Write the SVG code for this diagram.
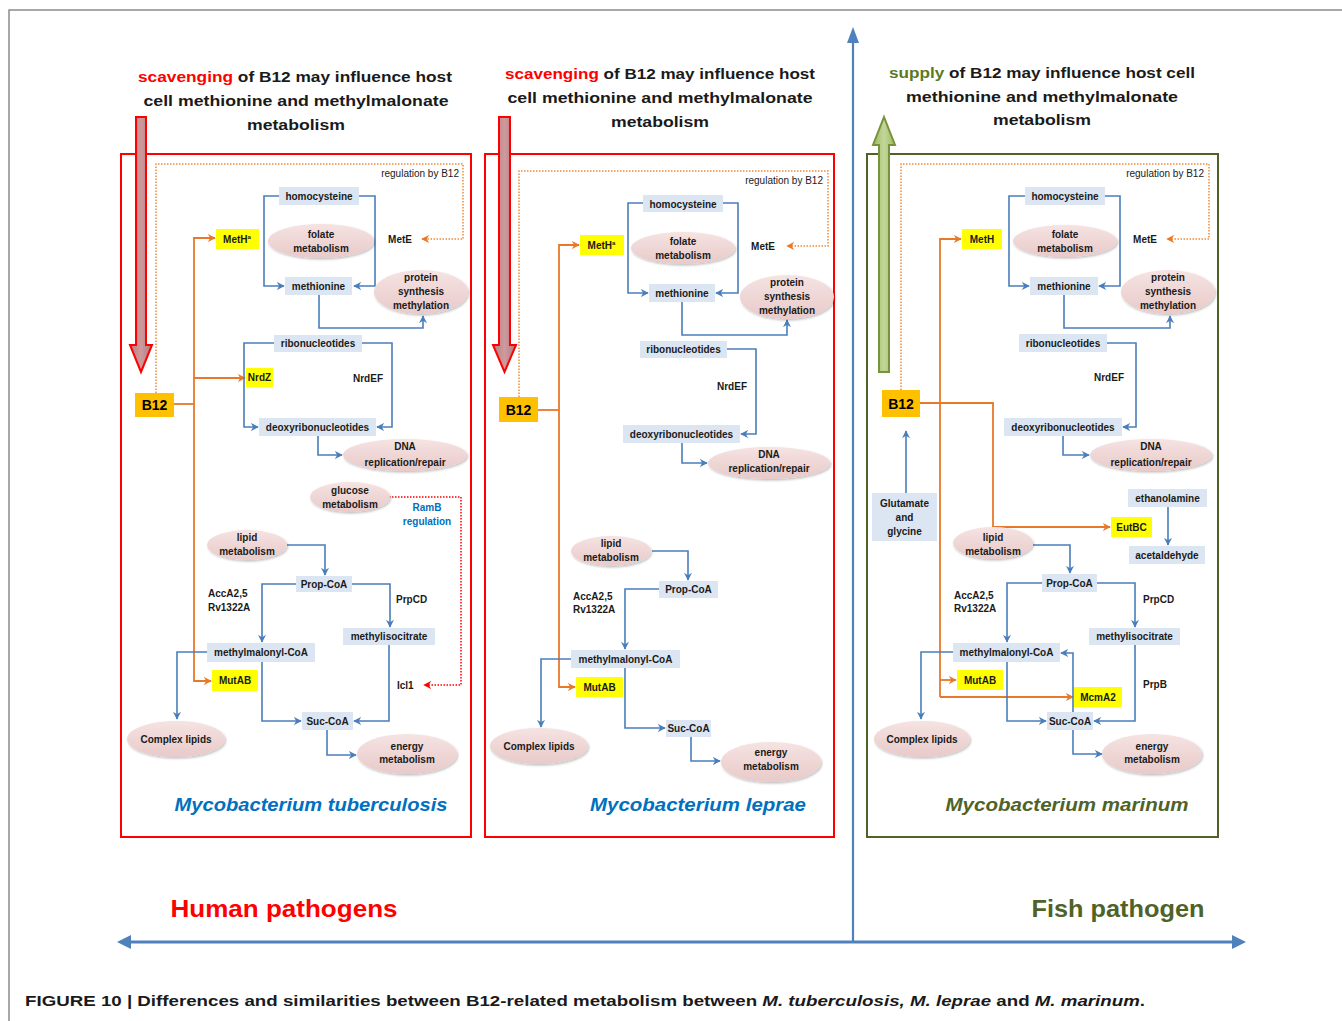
<svg xmlns="http://www.w3.org/2000/svg" width="1342" height="1021" viewBox="0 0 1342 1021">
<defs>
<style>
.bx{fill:#dce6f2}
.yl{fill:#ffff00}
.b12{fill:#ffc000}
.el{fill:url(#eg);filter:url(#sh)}
.t{font-family:"Liberation Sans",Arial,sans-serif;font-size:10px;font-weight:bold;fill:#1a1a1a;text-anchor:middle}
.ts{font-family:"Liberation Sans",Arial,sans-serif;font-size:10px;font-weight:bold;fill:#1a1a1a}
.rg{font-family:"Liberation Sans",Arial,sans-serif;font-size:10px;fill:#1a1a1a;text-anchor:end}
.bt{font-family:"Liberation Sans",Arial,sans-serif;font-size:14px;font-weight:bold;fill:#000;text-anchor:middle}
.hd{font-family:"Liberation Sans",Arial,sans-serif;font-size:15.5px;font-weight:bold;fill:#1a1a1a;text-anchor:middle}
.sp{font-family:"Liberation Sans",Arial,sans-serif;font-size:19px;font-weight:bold;font-style:italic;text-anchor:middle}
.bl{fill:none;stroke:#4a7ebb;stroke-width:1.6;marker-end:url(#ab)}
.or{fill:none;stroke:#e8782a;stroke-width:1.8}
.ora{fill:none;stroke:#e8782a;stroke-width:1.8;marker-end:url(#ao)}
.od{fill:none;stroke:#f08a3a;stroke-width:1.5;stroke-dasharray:1.5 1.5;marker-end:url(#ao)}
.rd{fill:none;stroke:#ff0000;stroke-width:1.5;stroke-dasharray:1.5 1.5;marker-end:url(#ar)}
</style>
<filter id="sh" x="-20%" y="-20%" width="140%" height="150%"><feDropShadow dx="1" dy="1.5" stdDeviation="1" flood-color="#000" flood-opacity="0.25"/></filter>
<linearGradient id="eg" x1="0" y1="0" x2="0" y2="1"><stop offset="0" stop-color="#f5e3e2"/><stop offset="1" stop-color="#e8cac9"/></linearGradient>
<linearGradient id="rg" x1="0" y1="0" x2="1" y2="0"><stop offset="0" stop-color="#b57e83"/><stop offset="0.5" stop-color="#cf9a9e"/><stop offset="1" stop-color="#b07a7f"/></linearGradient>
<linearGradient id="gg" x1="0" y1="0" x2="1" y2="0"><stop offset="0" stop-color="#9bbb59"/><stop offset="0.5" stop-color="#c3d69b"/><stop offset="1" stop-color="#9bbb59"/></linearGradient>
<marker id="ab" viewBox="0 0 10 10" refX="9" refY="5" markerWidth="8" markerHeight="8" markerUnits="userSpaceOnUse" orient="auto"><path d="M0,0 L10,5 L0,10 L3,5z" fill="#4a7ebb"/></marker>
<marker id="ao" viewBox="0 0 10 10" refX="9" refY="5" markerWidth="8" markerHeight="8" markerUnits="userSpaceOnUse" orient="auto"><path d="M0,0 L10,5 L0,10 L3,5z" fill="#e8782a"/></marker>
<marker id="ar" viewBox="0 0 10 10" refX="9" refY="5" markerWidth="8" markerHeight="8" markerUnits="userSpaceOnUse" orient="auto"><path d="M0,0 L10,5 L0,10 L3,5z" fill="#ff0000"/></marker>
</defs>
<rect width="1342" height="1021" fill="#ffffff"/>
<path d="M9,1021 V10 H1342" fill="none" stroke="#8c8c8c" stroke-width="1.5"/>

<!-- axes -->
<g id="axes" stroke="#4f81bd" fill="#4f81bd">
<line x1="853" y1="942" x2="853" y2="40" stroke-width="2.2"/>
<path d="M853,27 L859,43 L847,43 Z" stroke="none"/>
<line x1="128" y1="942" x2="1235" y2="942" stroke-width="3"/>
<path d="M117,942 L131,935 L131,949 Z" stroke="none"/>
<path d="M1246,942 L1232,935 L1232,949 Z" stroke="none"/>
</g>

<!-- headings -->
<g id="headings">
<text class="hd" x="295" y="82" textLength="314" lengthAdjust="spacingAndGlyphs"><tspan fill="#ff0000">scavenging</tspan> of B12 may influence  host</text>
<text class="hd" x="296" y="106" textLength="305" lengthAdjust="spacingAndGlyphs">cell methionine and methylmalonate</text>
<text class="hd" x="296" y="130" textLength="98" lengthAdjust="spacingAndGlyphs">metabolism</text>
<text class="hd" x="660" y="79" textLength="310" lengthAdjust="spacingAndGlyphs"><tspan fill="#ff0000">scavenging</tspan> of B12 may influence host</text>
<text class="hd" x="660" y="103" textLength="305" lengthAdjust="spacingAndGlyphs">cell methionine and methylmalonate</text>
<text class="hd" x="660" y="127" textLength="98" lengthAdjust="spacingAndGlyphs">metabolism</text>
<text class="hd" x="1042" y="78" textLength="306" lengthAdjust="spacingAndGlyphs"><tspan fill="#5b7a1f">supply</tspan> of B12 may influence host cell</text>
<text class="hd" x="1042" y="102" textLength="272" lengthAdjust="spacingAndGlyphs">methionine and methylmalonate</text>
<text class="hd" x="1042" y="125" textLength="98" lengthAdjust="spacingAndGlyphs">metabolism</text>
</g>

<!-- panel frames -->
<rect id="panel-tb" x="121" y="154" width="350" height="683" fill="none" stroke="#ff0000" stroke-width="2"/>
<rect id="panel-lep" x="485" y="154" width="349" height="683" fill="none" stroke="#ff0000" stroke-width="2"/>
<rect id="panel-mar" x="867" y="154" width="351" height="683" fill="none" stroke="#4f6228" stroke-width="2"/>

<!-- big arrows -->
<path id="arrow-scav1" d="M136,117 H146 V345 H152 L141,372 L130,345 H136 Z" fill="url(#rg)" stroke="#ff0000" stroke-width="2"/>
<path id="arrow-scav2" d="M499,117 H510 V345 H516 L504.5,372 L493,345 H499 Z" fill="url(#rg)" stroke="#ff0000" stroke-width="2"/>
<path id="arrow-supply" d="M884,117 L895,145 H889 V372 H879 V145 H873 Z" fill="url(#gg)" stroke="#77933c" stroke-width="2"/>

<!-- connectors -->
<g id="connectors">
<!-- panel 1 -->
<path class="od" d="M156,393 V164 H463 V239 H422"/>
<path class="rd" d="M389,497 H461 V685 H424"/>
<path class="or" d="M174,404 H194"/>
<path class="ora" d="M194,404 V238 H215"/>
<path class="ora" d="M194,404 V681 H211"/>
<path class="ora" d="M194,378 H245"/>
<path class="bl" d="M279,196 H264 V286 H284"/>
<path class="bl" d="M359,196 H375 V286 H354"/>
<path class="bl" d="M319,295 V328 H423 V316"/>
<path class="bl" d="M274,343 H244 V427 H258"/>
<path class="bl" d="M362,343 H392 V427 H377"/>
<path class="bl" d="M318,436 V455 H342"/>
<path class="bl" d="M287,545 H325 V575"/>
<path class="bl" d="M296,584 H262 V642"/>
<path class="bl" d="M352,584 H390 V627"/>
<path class="bl" d="M207,652 H177 V719"/>
<path class="bl" d="M262,662 V721 H301"/>
<path class="bl" d="M389,645 V721 H354"/>
<path class="bl" d="M327,730 V755 H356"/>
<!-- panel 2 -->
<path class="od" d="M519,397 V171 H828 V246 H787"/>
<path class="or" d="M538,410 H559"/>
<path class="ora" d="M559,410 V245 H579"/>
<path class="ora" d="M559,410 V687 H575"/>
<path class="bl" d="M643,203 H628 V293 H648"/>
<path class="bl" d="M723,203 H738 V293 H716"/>
<path class="bl" d="M682,302 V335 H787 V320"/>
<path class="bl" d="M727,349 H756 V434 H741"/>
<path class="bl" d="M682,443 V463 H707"/>
<path class="bl" d="M652,551 H688 V580"/>
<path class="bl" d="M659,589 H625 V649"/>
<path class="bl" d="M571,659 H541 V727"/>
<path class="bl" d="M625,668 V728 H665"/>
<path class="bl" d="M691,737 V761 H720"/>
<!-- panel 3 -->
<path class="od" d="M901,390 V164 H1209 V239 H1167"/>
<path class="ora" d="M920,403 H993 V527 H1110"/>
<path class="ora" d="M940,697 V239 H961"/>
<path class="ora" d="M940,697 H1073"/>
<path class="ora" d="M940,680 H956"/>
<path class="bl" d="M906,493 V431"/>
<path class="bl" d="M1025,196 H1009 V286 H1029"/>
<path class="bl" d="M1105,196 H1120 V286 H1099"/>
<path class="bl" d="M1064,295 V328 H1170 V316"/>
<path class="bl" d="M1107,343 H1136 V427 H1123"/>
<path class="bl" d="M1063,436 V455 H1089"/>
<path class="bl" d="M1168,507 V545"/>
<path class="bl" d="M1033,545 H1070 V573"/>
<path class="bl" d="M1042,583 H1007 V642"/>
<path class="bl" d="M1097,583 H1135 V627"/>
<path class="bl" d="M953,652 H921 V719"/>
<path class="bl" d="M1007,662 V721 H1046"/>
<path class="bl" d="M1135,645 V721 H1094"/>
<path class="bl" d="M1073,712 V653 H1061"/>
<path class="bl" d="M1073,730 V754 H1102"/>
</g>

<!-- Panel 1 nodes -->
<g id="tb-nodes">
<text class="rg" x="459" y="177">regulation by B12</text>
<g id="tb-homocysteine"><rect class="bx" x="279" y="187" width="80" height="18"/><text class="t" x="319" y="200">homocysteine</text></g>
<g id="tb-folate"><ellipse class="el" cx="321" cy="241" rx="53" ry="17"/><text class="t" x="321" y="237.5">folate</text><text class="t" x="321" y="251.5">metabolism</text></g>
<g id="tb-meth"><rect class="yl" x="216" y="229" width="43" height="20"/><text class="t" x="237" y="242.5">MetH<tspan font-size="6" dy="-4">a</tspan></text></g>
<g id="tb-mete"><text class="t" x="400" y="242.5">MetE</text></g>
<g id="tb-methionine"><rect class="bx" x="285" y="277" width="67" height="18"/><text class="t" x="318.5" y="289.5">methionine</text></g>
<g id="tb-protein"><ellipse class="el" cx="421" cy="292" rx="47" ry="22"/><text class="t" x="421" y="280.5">protein</text><text class="t" x="421" y="294.5">synthesis</text><text class="t" x="421" y="308.5">methylation</text></g>
<g id="tb-ribo"><rect class="bx" x="274" y="335" width="88" height="17"/><text class="t" x="318" y="346.5">ribonucleotides</text></g>
<g id="tb-nrdz"><rect class="yl" x="246" y="368" width="27" height="19"/><text class="t" x="259.5" y="381">NrdZ</text></g>
<g id="tb-nrdef"><text class="t" x="368" y="381.5">NrdEF</text></g>
<g id="tb-deoxy"><rect class="bx" x="259" y="418" width="117" height="18"/><text class="t" x="317.5" y="430.5">deoxyribonucleotides</text></g>
<g id="tb-dna"><ellipse class="el" cx="405" cy="455" rx="62" ry="16"/><text class="t" x="405" y="450">DNA</text><text class="t" x="405" y="465.5">replication/repair</text></g>
<g id="tb-b12"><rect class="b12" x="135" y="393" width="39" height="24"/><text class="bt" x="154.5" y="410">B12</text></g>
<g id="tb-glucose"><ellipse class="el" cx="350" cy="497" rx="40" ry="15"/><text class="t" x="350" y="494">glucose</text><text class="t" x="350" y="507.5">metabolism</text></g>
<g id="tb-ramb"><text class="t" x="427" y="511" style="fill:#0070c0">RamB</text><text class="t" x="427" y="525" style="fill:#0070c0">regulation</text></g>
<g id="tb-lipid"><ellipse class="el" cx="247" cy="545" rx="40" ry="15"/><text class="t" x="247" y="540.5">lipid</text><text class="t" x="247" y="554.5">metabolism</text></g>
<g id="tb-propcoa"><rect class="bx" x="296" y="576" width="56" height="16"/><text class="t" x="324" y="587.5">Prop-CoA</text></g>
<g id="tb-acca"><text class="ts" x="208" y="596.5">AccA2,5</text><text class="ts" x="208" y="610.5">Rv1322A</text></g>
<g id="tb-prpcd"><text class="ts" x="396" y="602.5">PrpCD</text></g>
<g id="tb-mic"><rect class="bx" x="343" y="628" width="92" height="17"/><text class="t" x="389" y="640">methylisocitrate</text></g>
<g id="tb-mmcoa"><rect class="bx" x="207" y="643" width="108" height="19"/><text class="t" x="261" y="656">methylmalonyl-CoA</text></g>
<g id="tb-mutab"><rect class="yl" x="212" y="670" width="46" height="21"/><text class="t" x="235" y="684">MutAB</text></g>
<g id="tb-icl1"><text class="ts" x="397" y="688.5">Icl1</text></g>
<g id="tb-succoa"><rect class="bx" x="302" y="712" width="51" height="18"/><text class="t" x="327.5" y="724.5">Suc-CoA</text></g>
<g id="tb-complex"><ellipse class="el" cx="176" cy="739" rx="49" ry="18"/><text class="t" x="176" y="742.5">Complex lipids</text></g>
<g id="tb-energy"><ellipse class="el" cx="407" cy="754" rx="50" ry="20"/><text class="t" x="407" y="749.5">energy</text><text class="t" x="407" y="763">metabolism</text></g>
<text class="sp" x="311" y="811" fill="#0070c0" textLength="273" lengthAdjust="spacingAndGlyphs">Mycobacterium tuberculosis</text>
</g>

<!-- Panel 2 nodes -->
<g id="lep-nodes">
<text class="rg" x="823" y="184">regulation by B12</text>
<g id="lep-homocysteine"><rect class="bx" x="643" y="195" width="80" height="17"/><text class="t" x="683" y="207.5">homocysteine</text></g>
<g id="lep-folate"><ellipse class="el" cx="683" cy="248" rx="52" ry="16"/><text class="t" x="683" y="244.5">folate</text><text class="t" x="683" y="258.5">metabolism</text></g>
<g id="lep-meth"><rect class="yl" x="580" y="235" width="44" height="20"/><text class="t" x="601.5" y="249">MetH<tspan font-size="6" dy="-4">a</tspan></text></g>
<g id="lep-mete"><text class="t" x="763" y="249.5">MetE</text></g>
<g id="lep-methionine"><rect class="bx" x="649" y="284" width="66" height="18"/><text class="t" x="682" y="296.5">methionine</text></g>
<g id="lep-protein"><ellipse class="el" cx="787" cy="297" rx="47" ry="22"/><text class="t" x="787" y="285.5">protein</text><text class="t" x="787" y="300">synthesis</text><text class="t" x="787" y="314">methylation</text></g>
<g id="lep-ribo"><rect class="bx" x="640" y="341" width="87" height="17"/><text class="t" x="683.5" y="353">ribonucleotides</text></g>
<g id="lep-nrdef"><text class="t" x="732" y="389.5">NrdEF</text></g>
<g id="lep-deoxy"><rect class="bx" x="623" y="425" width="117" height="18"/><text class="t" x="681.5" y="437.5">deoxyribonucleotides</text></g>
<g id="lep-dna"><ellipse class="el" cx="769" cy="463" rx="61" ry="16"/><text class="t" x="769" y="457.5">DNA</text><text class="t" x="769" y="471.5">replication/repair</text></g>
<g id="lep-b12"><rect class="b12" x="499" y="397" width="39" height="25"/><text class="bt" x="518.5" y="414.5">B12</text></g>
<g id="lep-lipid"><ellipse class="el" cx="611" cy="551" rx="40" ry="15"/><text class="t" x="611" y="546.5">lipid</text><text class="t" x="611" y="560.5">metabolism</text></g>
<g id="lep-propcoa"><rect class="bx" x="659" y="581" width="59" height="17"/><text class="t" x="688.5" y="593">Prop-CoA</text></g>
<g id="lep-acca"><text class="ts" x="573" y="599.5">AccA2,5</text><text class="ts" x="573" y="613">Rv1322A</text></g>
<g id="lep-mmcoa"><rect class="bx" x="571" y="650" width="109" height="18"/><text class="t" x="625.5" y="662.5">methylmalonyl-CoA</text></g>
<g id="lep-mutab"><rect class="yl" x="576" y="677" width="47" height="20"/><text class="t" x="599.5" y="691">MutAB</text></g>
<g id="lep-succoa"><rect class="bx" x="666" y="720" width="45" height="17"/><text class="t" x="688.5" y="732">Suc-CoA</text></g>
<g id="lep-complex"><ellipse class="el" cx="539" cy="746" rx="49" ry="18"/><text class="t" x="539" y="749.5">Complex lipids</text></g>
<g id="lep-energy"><ellipse class="el" cx="771" cy="762" rx="50" ry="20"/><text class="t" x="771" y="755.5">energy</text><text class="t" x="771" y="769.5">metabolism</text></g>
<text class="sp" x="698" y="811" fill="#0070c0" textLength="216" lengthAdjust="spacingAndGlyphs">Mycobacterium leprae</text>
</g>

<!-- Panel 3 nodes -->
<g id="mar-nodes">
<text class="rg" x="1204" y="177">regulation by B12</text>
<g id="mar-homocysteine"><rect class="bx" x="1025" y="187" width="80" height="18"/><text class="t" x="1065" y="200">homocysteine</text></g>
<g id="mar-folate"><ellipse class="el" cx="1065" cy="241" rx="52" ry="16"/><text class="t" x="1065" y="237.5">folate</text><text class="t" x="1065" y="251.5">metabolism</text></g>
<g id="mar-meth"><rect class="yl" x="962" y="229" width="40" height="20"/><text class="t" x="982" y="243">MetH</text></g>
<g id="mar-mete"><text class="t" x="1145" y="242.5">MetE</text></g>
<g id="mar-methionine"><rect class="bx" x="1030" y="277" width="68" height="18"/><text class="t" x="1064" y="290">methionine</text></g>
<g id="mar-protein"><ellipse class="el" cx="1168" cy="292" rx="47" ry="22"/><text class="t" x="1168" y="280.5">protein</text><text class="t" x="1168" y="294.5">synthesis</text><text class="t" x="1168" y="308.5">methylation</text></g>
<g id="mar-ribo"><rect class="bx" x="1019" y="334" width="88" height="18"/><text class="t" x="1063" y="347">ribonucleotides</text></g>
<g id="mar-nrdef"><text class="t" x="1109" y="380.5">NrdEF</text></g>
<g id="mar-deoxy"><rect class="bx" x="1004" y="418" width="118" height="18"/><text class="t" x="1063" y="430.5">deoxyribonucleotides</text></g>
<g id="mar-dna"><ellipse class="el" cx="1151" cy="455" rx="61" ry="16"/><text class="t" x="1151" y="450">DNA</text><text class="t" x="1151" y="465.5">replication/repair</text></g>
<g id="mar-b12"><rect class="b12" x="882" y="390" width="38" height="27"/><text class="bt" x="901" y="408.5">B12</text></g>
<g id="mar-glu"><rect class="bx" x="872" y="493" width="65" height="48"/><text class="t" x="904.5" y="506.5">Glutamate</text><text class="t" x="904.5" y="520.5">and</text><text class="t" x="904.5" y="534.5">glycine</text></g>
<g id="mar-ethanolamine"><rect class="bx" x="1128" y="489" width="79" height="18"/><text class="t" x="1167.5" y="501.5">ethanolamine</text></g>
<g id="mar-acetaldehyde"><rect class="bx" x="1129" y="546" width="76" height="18"/><text class="t" x="1167" y="558.5">acetaldehyde</text></g>
<g id="mar-eutbc"><rect class="yl" x="1111" y="517" width="41" height="20"/><text class="t" x="1131.5" y="531">EutBC</text></g>
<g id="mar-lipid"><ellipse class="el" cx="993" cy="543" rx="40" ry="16"/><text class="t" x="993" y="540.5">lipid</text><text class="t" x="993" y="554.5">metabolism</text></g>
<g id="mar-propcoa"><rect class="bx" x="1042" y="574" width="55" height="18"/><text class="t" x="1069.5" y="586.5">Prop-CoA</text></g>
<g id="mar-acca"><text class="ts" x="954" y="598.5">AccA2,5</text><text class="ts" x="954" y="612">Rv1322A</text></g>
<g id="mar-prpcd"><text class="ts" x="1143" y="602.5">PrpCD</text></g>
<g id="mar-mic"><rect class="bx" x="1089" y="628" width="91" height="17"/><text class="t" x="1134.5" y="640">methylisocitrate</text></g>
<g id="mar-mmcoa"><rect class="bx" x="953" y="643" width="107" height="19"/><text class="t" x="1006.5" y="656">methylmalonyl-CoA</text></g>
<g id="mar-mutab"><rect class="yl" x="957" y="670" width="46" height="20"/><text class="t" x="980" y="684">MutAB</text></g>
<g id="mar-mcma2"><rect class="yl" x="1074" y="687" width="48" height="20"/><text class="t" x="1098" y="701">McmA2</text></g>
<g id="mar-prpb"><text class="ts" x="1143" y="687.5">PrpB</text></g>
<g id="mar-succoa"><rect class="bx" x="1047" y="712" width="46" height="18"/><text class="t" x="1070" y="724.5">Suc-CoA</text></g>
<g id="mar-complex"><ellipse class="el" cx="922" cy="739" rx="48" ry="18"/><text class="t" x="922" y="742.5">Complex lipids</text></g>
<g id="mar-energy"><ellipse class="el" cx="1152" cy="754" rx="50" ry="20"/><text class="t" x="1152" y="749.5">energy</text><text class="t" x="1152" y="763">metabolism</text></g>
<text class="sp" x="1067" y="811" fill="#4f6228" textLength="243" lengthAdjust="spacingAndGlyphs">Mycobacterium marinum</text>
</g>

<!-- bottom labels -->
<g id="labels">
<text x="284" y="917" font-family="'Liberation Sans',Arial,sans-serif" font-size="24" font-weight="bold" fill="#ff0000" text-anchor="middle" textLength="227" lengthAdjust="spacingAndGlyphs">Human pathogens</text>
<text x="1118" y="917" font-family="'Liberation Sans',Arial,sans-serif" font-size="24" font-weight="bold" fill="#4f6228" text-anchor="middle" textLength="173" lengthAdjust="spacingAndGlyphs">Fish pathogen</text>
<text x="25" y="1006" font-family="'Liberation Sans',Arial,sans-serif" font-size="15" font-weight="bold" fill="#1a1a1a" textLength="1120" lengthAdjust="spacingAndGlyphs">FIGURE 10 | Differences and similarities between B12-related metabolism between <tspan font-style="italic">M. tuberculosis,</tspan> <tspan font-style="italic">M. leprae</tspan> and <tspan font-style="italic">M. marinum</tspan>.</text>
</g>
</svg>
